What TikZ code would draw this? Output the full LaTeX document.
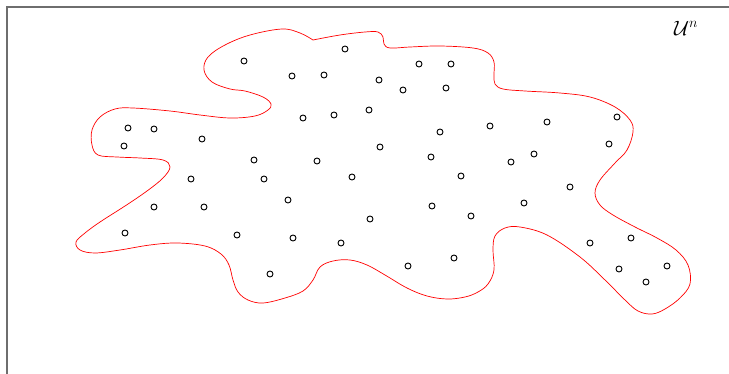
\documentclass[tikz,border=0pt]{standalone}
\usepackage{tikz}
\usetikzlibrary{positioning}
\usepackage{xcolor}
\definecolor{frameGray}{RGB}{110, 110, 110}

\begin{document}
\begin{tikzpicture}[x=1pt, y=-1pt,
          pt/.style={draw, circle, inner sep=0pt, minimum size=6pt,
                     line width=0.9pt},
          blob/.style={red, line width=0.7pt}]
        \useasboundingbox (0,0) rectangle (729,374);
        % frame of the universe
        \draw[frameGray, line width=1.5pt] (7,374) -- (7,7) -- (729,7);
        \node[font=\fontsize{22}{24}\selectfont] (univ) at (686,28) {$\mathcal{U}^n$};
        % the set (starts and ends at the kink on top)
        \draw[blob] plot[smooth, tension=0.6] coordinates {
          (313,40) (340,35) (365,32) (378,32) (383,37) (384,44) (390,48)
          (410,47) (440,46) (473,48) (488,53) (494,62) (494,75) (495,84)
          (503,89) (525,91) (560,93) (590,97) (615,107) (630,120) (633,132)
          (627,150) (615,163) (600,180) (595,193) (600,205) (613,215)
          (635,227) (657,238) (676,250) (688,265) (690,284) (680,298)
          (665,309) (652,314) (638,311) (625,300) (605,280) (580,257)
          (547,235) (520,227) (505,228) (495,236) (493,250) (494,270)
          (488,284) (478,292) (465,297) (447,299) (427,296) (407,288)
          (385,275) (367,265) (350,260) (333,261) (320,267) (313,280)
          (303,291) (285,298) (263,303) (248,300) (238,292) (233,280)
          (229,265) (221,254) (205,246) (177,243) (150,245) (120,250)
          (95,253) (80,250) (76,242) (85,233) (100,222) (125,206)
          (147,191) (163,178) (170,167) (163,160) (140,158) (117,157)
          (98,155) (92,145) (92,130) (100,117) (115,109) (133,108)
          (170,111) (200,115) (230,118) (255,116) (268,110) (271,104)
          (263,97) (245,91) (230,89) (212,82) (204,70) (208,57) (225,45)
          (250,35) (282,29) (300,33) (313,40)};
        % sample points
        \foreach \x/\y [count=\i] in {
            244/61, 128/128, 154/129, 124/146, 202/139, 191/179,
            345/49, 292/76, 324/75, 379/80, 419/64, 451/64, 403/90,
            446/88, 303/118, 334/115, 369/110, 440/132, 380/147,
            431/157, 254/160, 317/161, 264/179, 352/177, 461/176,
            490/126, 547/122, 617/117, 609/144, 534/154, 511/162,
            570/187, 154/207, 204/207, 125/233, 237/235,
            288/200, 432/206, 471/216, 370/219, 293/238, 341/243,
            270/274, 408/266, 454/258,
            524/203, 590/243, 631/238, 619/269, 667/266, 646/282}
          \node[pt] (p\i) at (\x,\y) {};
      \end{tikzpicture}
\end{document}
